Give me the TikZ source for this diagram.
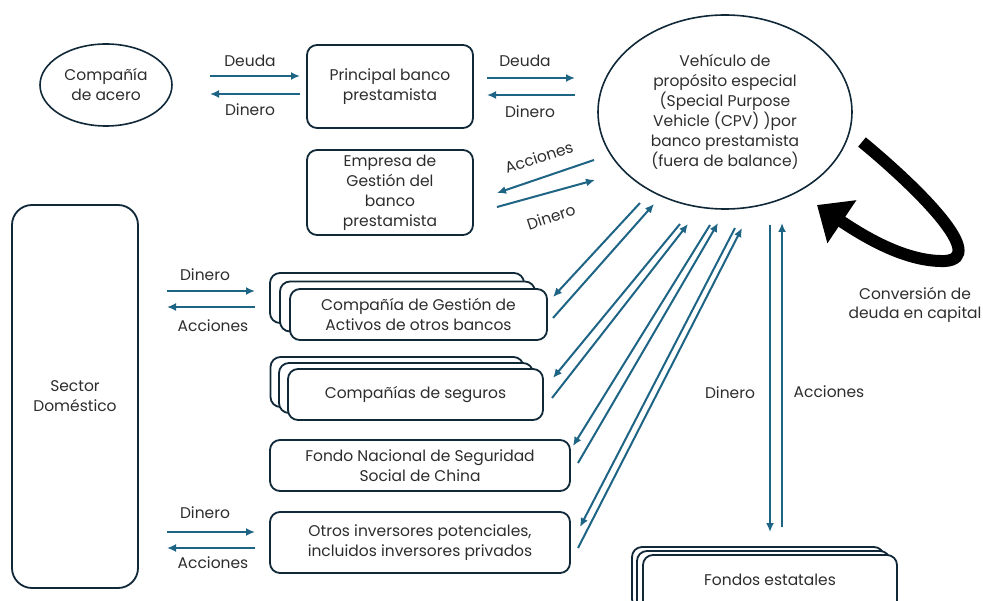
\documentclass[tikz,border=0pt]{standalone}
\usepackage{fontspec}
\setmainfont{Poppins}
\usetikzlibrary{arrows.meta,shapes.geometric}
\definecolor{navy}{RGB}{16,40,56}
\definecolor{teal}{RGB}{30,100,132}
\definecolor{tgray}{RGB}{45,45,45}
\tikzset{
  box/.style={draw=navy, line width=1.8pt, rounded corners=10pt, fill=white, align=center, text=tgray, font=\fontsize{15.5}{20}\selectfont, inner sep=0pt},
  ell/.style={ellipse, draw=navy, line width=1.6pt, align=center, text=tgray, font=\fontsize{15.5}{20}\selectfont, inner sep=0pt},
  flow/.style={draw=teal, line width=2pt, -{Latex[length=9pt,width=8pt]}},
  lbl/.style={text=tgray, font=\fontsize{15.5}{19}\selectfont, inner sep=0pt, align=center}
}
\begin{document}
\begin{tikzpicture}[x=1pt,y=-1pt]
\useasboundingbox (0,0) rectangle (983,601);
\begin{scope}
\clip (0,0) rectangle (983,601);
% nodes
\node[ell, minimum width=132, minimum height=82] (acero) at (106,85) {Compañía\\de acero};
\node[box, minimum width=166, minimum height=83] (prin) at (390,86.5) {Principal banco\\prestamista};
\node[ell, minimum width=254, minimum height=194] (spv) at (725,112) {Vehículo de\\propósito especial\\(Special Purpose\\Vehicle (CPV) )por\\banco prestamista\\(fuera de balance)};
\node[box, minimum width=166, minimum height=85] (emp) at (390,192.5) {Empresa de\\Gestión del\\banco\\prestamista};
\node[box, rounded corners=20pt, minimum width=126, minimum height=383] (sector) at (75,396.5) {Sector\\Doméstico};
% stacked cga
\node[box, minimum width=254, minimum height=50] (cgaB) at (397,298) {};
\node[box, minimum width=255, minimum height=50] (cgaM) at (407.5,306.5) {};
\node[box, minimum width=257, minimum height=51] (cga) at (418.5,314.5) {Compañía de Gestión de\\Activos de otros bancos};
% stacked seguros
\node[box, minimum width=253, minimum height=50] (segB) at (397,382) {};
\node[box, minimum width=254, minimum height=50] (segM) at (406,388) {};
\node[box, minimum width=255, minimum height=51] (seg) at (415.5,394.5) {Compañías de seguros};
\node[box, minimum width=300, minimum height=51] (fondo) at (420,465.5) {Fondo Nacional de Seguridad\\Social de China};
\node[box, minimum width=300, minimum height=61] (otros) at (420,542.5) {Otros inversores potenciales,\\incluidos inversores privados};
% stacked fondos estatales
\node[box, minimum width=252, minimum height=62] (festB) at (758,578) {};
\node[box, minimum width=253, minimum height=62] (festM) at (763.5,582) {};
\node[box, minimum width=254, minimum height=62] (fest) at (770,586) {};
\node[lbl] (festT) at (770,580) {Fondos estatales};
\end{scope}
% coordinates for arrow ends
\coordinate (a1s) at (210,76); \coordinate (a1e) at (300,76);
\coordinate (a2s) at (300,94); \coordinate (a2e) at (210,94);
\coordinate (a3s) at (487,78); \coordinate (a3e) at (575,78);
\coordinate (a4s) at (575,95); \coordinate (a4e) at (487,95);
\coordinate (e1s) at (594,160); \coordinate (e1e) at (497,193);
\coordinate (e2s) at (497,207); \coordinate (e2e) at (595,180);
\coordinate (l1s) at (167,291); \coordinate (l1e) at (255,291);
\coordinate (l2s) at (255,307); \coordinate (l2e) at (167,307);
\coordinate (l3s) at (167,532); \coordinate (l3e) at (255,532);
\coordinate (l4s) at (255,548); \coordinate (l4e) at (167,548);
\coordinate (d1s) at (640,203); \coordinate (d1e) at (553,297);
\coordinate (d2s) at (553,318); \coordinate (d2e) at (654,204);
\coordinate (d3s) at (680,224); \coordinate (d3e) at (553,378);
\coordinate (d4s) at (552,398); \coordinate (d4e) at (688,224);
\coordinate (d5s) at (710,225); \coordinate (d5e) at (573,446);
\coordinate (d6s) at (578,463); \coordinate (d6e) at (718,223);
\coordinate (d7s) at (735,228); \coordinate (d7e) at (580,527);
\coordinate (d8s) at (578,548); \coordinate (d8e) at (742,228);
\coordinate (v1s) at (770,225); \coordinate (v1e) at (770,532);
\coordinate (v2s) at (782,527); \coordinate (v2e) at (782,223);
% arrows
\foreach \p in {a1,a2,a3,a4,e1,e2,l1,l2,l3,l4,d1,d2,d3,d4,d5,d6,d7,d8,v1,v2}
  \draw[flow] (\p s) -- (\p e);
% labels
\node[lbl] (t1) at (250,61) {Deuda};
\node[lbl] (t2) at (250,110) {Dinero};
\node[lbl] (t3) at (525,61) {Deuda};
\node[lbl] (t4) at (530,112) {Dinero};
\node[lbl, rotate=18] (t5) at (539,157) {Acciones};
\node[lbl, rotate=18] (t6) at (551,217) {Dinero};
\node[lbl] (t7) at (205,275) {Dinero};
\node[lbl] (t8) at (213,326) {Acciones};
\node[lbl] (t9) at (205,513) {Dinero};
\node[lbl] (t10) at (213,563) {Acciones};
\node[lbl] (t11) at (730,393) {Dinero};
\node[lbl] (t12) at (829,392) {Acciones};
\node[lbl] (t13) at (915,305) {Conversión de\\deuda en capital};
% loop arrow
\coordinate (lp1) at (862,142);
\coordinate (lp2) at (945,261);
\coordinate (lp3) at (817,205);
\draw[line width=12pt, black, -{Triangle[length=30pt,width=50pt]}] (lp1) .. controls (920,190) and (988,258) .. (lp2) .. controls (910,262) and (872,242) .. (lp3);
\end{tikzpicture}
\end{document}
